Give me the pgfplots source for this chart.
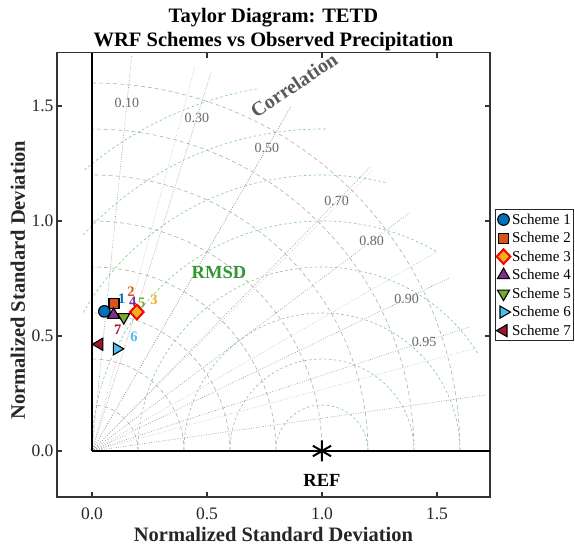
\documentclass[border=0pt]{standalone}
\usepackage{fontspec}
\setmainfont{Liberation Serif}
\usepackage{pgfplots}
\pgfplotsset{compat=1.18}

% scheme colours
\definecolor{sOne}{RGB}{0,114,189}
\definecolor{sTwo}{RGB}{217,83,25}
\definecolor{sThree}{RGB}{237,177,32}
\definecolor{sFour}{RGB}{126,47,142}
\definecolor{sFive}{RGB}{119,172,48}
\definecolor{sSix}{RGB}{77,190,238}
\definecolor{sSeven}{RGB}{162,20,47}
% grid colours
\definecolor{corrDark}{RGB}{150,150,150}
\definecolor{corrLight}{RGB}{195,195,195}
\definecolor{stdArc}{RGB}{175,175,175}
\definecolor{rmsArc}{RGB}{125,205,125}
\definecolor{rmsText}{RGB}{50,150,50}
\definecolor{corrText}{RGB}{105,105,105}

\pgfplotsset{
  schememark/.style={only marks,
    legend image code/.code={\draw[##1] plot coordinates {(0.2cm,0cm)};}},
}

\tikzset{
  stdgrid/.style={stdArc, line width=0.6pt, dash pattern=on 4pt off 3pt},
  rmsgrid/.style={rmsArc, line width=0.6pt, dash pattern=on 2.5pt off 2.5pt},
  corrgrid/.style={corrDark, line width=0.6pt, dash pattern=on 0.8pt off 1.6pt},
  lightgrid/.style={corrLight, line width=0.6pt, dash pattern=on 0.8pt off 1.6pt},
  corrlab/.style={corrText, font=\fontsize{14}{16}\selectfont},
  numlab/.style={font=\fontsize{14.5}{16}\selectfont\bfseries},
}

% RMSD arc around the reference point: radius, start angle, end angle
\newcommand{\rmsarc}[3]{\draw[rmsgrid] (axis cs:{1+#1*cos(#2)},{#1*sin(#2)}) arc[start angle=#2, end angle=#3, radius=#1*230pt];}

\begin{document}
\begin{tikzpicture}
\begin{axis}[
  scale only axis,
  x=230pt, y=230pt,
  xmin=-0.152, xmax=1.73, ymin=-0.2, ymax=1.732,
  axis line style={draw=black!80, line width=1.3pt},
  tick align=inside,
  major tick length=5pt,
  every tick/.style={black!80, line width=1.3pt},
  xtick={0,0.5,1,1.5}, ytick={0,0.5,1,1.5},
  /pgf/number format/assume math mode=true,
  xticklabel style={yshift=-7pt, /pgf/number format/fixed, /pgf/number format/fixed zerofill, /pgf/number format/precision=1},
  yticklabel style={/pgf/number format/fixed, /pgf/number format/fixed zerofill, /pgf/number format/precision=1},
  tick label style={font=\fontsize{17.5}{20}\selectfont, text=black!85},
  legend style={at={(1.0118,0.648)}, anchor=north west, draw=black!85, line width=1.1pt,
    fill=white, font=\fontsize{15}{17}\selectfont, inner xsep=1pt, inner ysep=2.5pt,
    row sep=3.6pt, nodes={inner sep=1.5pt}, cells={anchor=west}},
]
% standard deviation arcs
\pgfplotsinvokeforeach{0.2,0.4,0.6,0.8,1.0,1.2,1.4,1.6}{
  \draw[stdgrid] (axis cs:#1,0) arc[start angle=0, end angle=90, radius=#1*230pt];
}
% RMSD arcs
\rmsarc{0.2}{0}{180}
\rmsarc{0.4}{0}{180}
\rmsarc{0.6}{0}{180}
\rmsarc{0.8}{32.27}{180}
\rmsarc{1.0}{60.24}{180}
\rmsarc{1.2}{76.68}{150.07}
\rmsarc{1.4}{89.33}{137.97}
\rmsarc{1.6}{100.21}{130.54}
% correlation rays
\pgfplotsinvokeforeach{15,30,45,60,75}{
  \draw[lightgrid] (axis cs:0,0) -- (axis cs:{1.73*cos(#1)},{1.73*sin(#1)});
}
\pgfplotsinvokeforeach{0.1,0.3,0.5,0.7,0.8,0.9,0.95,0.99}{
  \draw[corrgrid] (axis cs:0,0) -- (axis cs:{1.73*#1},{1.73*sqrt(1-#1*#1)});
}
\node[corrlab] at (axis cs:{1.52*0.10},{1.52*sqrt(1-0.10^2)}) {0.10};
\node[corrlab] at (axis cs:{1.52*0.30},{1.52*sqrt(1-0.30^2)}) {0.30};
\node[corrlab] at (axis cs:{1.52*0.50},{1.52*sqrt(1-0.50^2)}) {0.50};
\node[corrlab] at (axis cs:{1.52*0.70},{1.52*sqrt(1-0.70^2)}) {0.70};
\node[corrlab] at (axis cs:{1.52*0.80},{1.52*sqrt(1-0.80^2)}) {0.80};
\node[corrlab] at (axis cs:{1.52*0.90},{1.52*sqrt(1-0.90^2)}) {0.90};
\node[corrlab] at (axis cs:{1.52*0.95},{1.52*sqrt(1-0.95^2)}) {0.95};
\node[corrText!85!black, rotate=34, font=\fontsize{20}{22}\selectfont\bfseries] at (axis cs:0.878,1.591) {Correlation};
\node[rmsText, font=\fontsize{18.5}{20}\selectfont\bfseries] at (axis cs:0.552,0.778) {RMSD};
\node[black, font=\fontsize{18.5}{20}\selectfont\bfseries] at (axis cs:1.0,-0.13) {REF};
% reference and standard deviation axes
\draw[black, line width=2pt] (axis cs:0,0) -- (axis cs:1.73,0);
\draw[black, line width=2pt] (axis cs:0,0) -- (axis cs:0,1.732);
\addplot[only marks, mark=asterisk, mark size=10.5pt, line width=2pt, black, forget plot] coordinates {(1,0)};

% schemes
\addplot[schememark, mark=*, mark size=5.8pt, mark options={fill=sOne, draw=black, line width=1.1pt}] coordinates {(0.054,0.607)};
\addlegendentry{Scheme 1}
\addplot[schememark, mark=square*, mark size=5pt, mark options={fill=sTwo, draw=black, line width=1.1pt}] coordinates {(0.096,0.642)};
\addlegendentry{Scheme 2}
\addplot[schememark, mark=diamond*, mark size=7.3pt, mark options={fill=sThree, draw=red, line width=2pt, xscale=1.25}] coordinates {(0.195,0.604)};
\addlegendentry{Scheme 3}
\addplot[schememark, mark=triangle*, mark size=7pt, mark options={fill=sFour, draw=black, line width=1.1pt}] coordinates {(0.094,0.592)};
\addlegendentry{Scheme 4}
\addplot[schememark, mark=triangle*, mark size=7pt, mark options={fill=sFive, draw=black, line width=1.1pt, rotate=180}] coordinates {(0.138,0.582)};
\addlegendentry{Scheme 5}
\addplot[schememark, mark=triangle*, mark size=7pt, mark options={fill=sSix, draw=black, line width=1.1pt, rotate=-90}] coordinates {(0.108,0.444)};
\addlegendentry{Scheme 6}
\addplot[schememark, mark=triangle*, mark size=7pt, mark options={fill=sSeven, draw=black, line width=1.1pt, rotate=90}] coordinates {(0.032,0.464)};
\addlegendentry{Scheme 7}

% scheme numbers
\node[numlab, sOne] at (axis cs:0.130,0.661) {1};
\node[numlab, sTwo] at (axis cs:0.170,0.691) {2};
\node[numlab, sThree] at (axis cs:0.270,0.657) {3};
\node[numlab, sFour] at (axis cs:0.177,0.649) {4};
\node[numlab, sFive] at (axis cs:0.216,0.645) {5};
\node[numlab, sSix] at (axis cs:0.183,0.496) {6};
\node[numlab, sSeven] at (axis cs:0.112,0.526) {7};

\coordinate (SW) at (rel axis cs:0,0);
\coordinate (TOPC) at (rel axis cs:0.5,1);
\coordinate (BOTC) at (rel axis cs:0.5,0);
\coordinate (LEFTC) at (rel axis cs:0,0.488);
\end{axis}

\node[anchor=base, font=\fontsize{20.5}{24}\selectfont\bfseries] at ([yshift=30.5pt]TOPC) {Taylor Diagram: TETD};
\node[anchor=base, font=\fontsize{20.5}{24}\selectfont\bfseries] at ([yshift=5.7pt]TOPC) {WRF Schemes vs Observed Precipitation};
\node[anchor=base, text=black!85, font=\fontsize{20.5}{24}\selectfont\bfseries] at ([yshift=-45pt]BOTC) {Normalized Standard Deviation};
\node[anchor=base, rotate=90, text=black!85, font=\fontsize{20.5}{24}\selectfont\bfseries] at ([xshift=-32pt]LEFTC) {Normalized Standard Deviation};

\pgfresetboundingbox
\path ([shift={(-57pt,-51pt)}]SW) rectangle ([shift={(518pt,497pt)}]SW);
\end{tikzpicture}
\end{document}
